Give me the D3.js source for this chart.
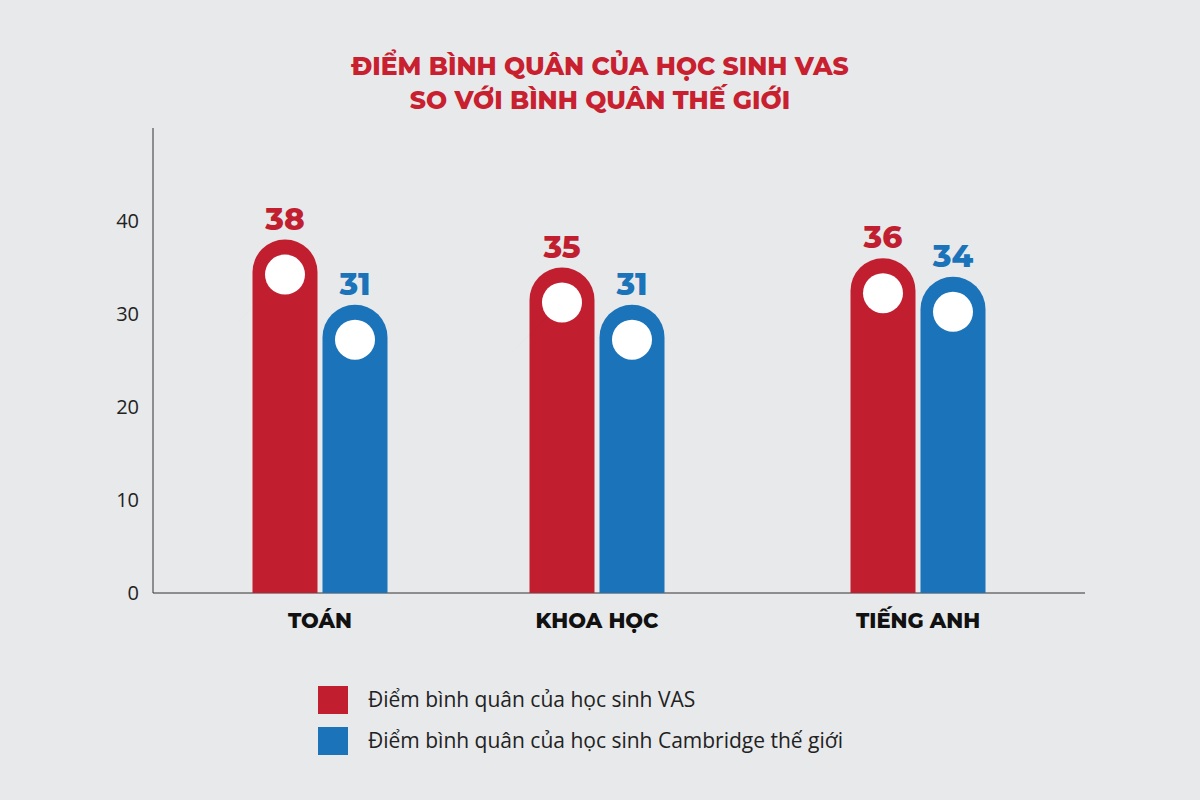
<!DOCTYPE html>
<html><head><meta charset="utf-8">
<script src="https://cdn.jsdelivr.net/npm/d3@7"></script>
<style>body{margin:0;background:#e8e9eb}svg{display:block}</style>
</head><body><svg id="c" width="1200" height="800"></svg>
<script>
const categories = ["TOÁN", "KHOA HỌC", "TIẾNG ANH"];
const vasValues = [38, 35, 36];
const worldValues = [31, 31, 34];
const seriesNames = ["Điểm bình quân của học sinh VAS", "Điểm bình quân của học sinh Cambridge thế giới"];
const yTicks = [0, 10, 20, 30, 40];
const colors = ["#c11f2f", "#1b73b9"];

const svg = d3.select("#c");
const font = "Montserrat, 'Open Sans', 'DejaVu Sans', sans-serif";
const y = d3.scaleLinear().domain([0, 50]).range([593, 128]);
const x = d3.scaleOrdinal().domain(categories).range([320, 597, 918]);
const bw = 65, gap = 5;

svg.append("text").attr("x", 600).attr("y", 75).attr("text-anchor", "middle")
  .attr("font-family", font).attr("font-weight", 800).attr("font-size", 25).attr("fill", "#c8202f")
  .text("ĐIỂM BÌNH QUÂN CỦA HỌC SINH VAS");
svg.append("text").attr("x", 600).attr("y", 109).attr("text-anchor", "middle")
  .attr("font-family", font).attr("font-weight", 800).attr("font-size", 25).attr("fill", "#c8202f")
  .text("SO VỚI BÌNH QUÂN THẾ GIỚI");

svg.append("line").attr("x1", 153).attr("x2", 153).attr("y1", 128).attr("y2", 593).attr("stroke", "#333").attr("stroke-width", 1);
svg.append("line").attr("x1", 153).attr("x2", 1085).attr("y1", 593).attr("y2", 593).attr("stroke", "#333").attr("stroke-width", 1);
const ya = svg.append("g").attr("transform", "translate(153,0)")
  .call(d3.axisLeft(y).tickValues(yTicks).tickSize(0).tickPadding(14));
ya.select(".domain").remove();
ya.selectAll("text").attr("font-family", "'Open Sans', sans-serif").attr("font-size", 20).attr("fill", "#222");

const defs = svg.append("defs");
const g = defs.append("linearGradient").attr("id", "sh").attr("x1", 1).attr("y1", 0).attr("x2", 0).attr("y2", 1);
g.append("stop").attr("offset", 0).attr("stop-color", "#000").attr("stop-opacity", 0.4);
g.append("stop").attr("offset", 0.5).attr("stop-color", "#000").attr("stop-opacity", 0.15);
g.append("stop").attr("offset", 1).attr("stop-color", "#000").attr("stop-opacity", 0);

function drawBar(cx0, v, col) {
  const top = y(v), r = bw / 2, cx = cx0 + r, bottom = y(0);
  const path = d3.path();
  path.moveTo(cx0, bottom); path.lineTo(cx0, top + r);
  path.arc(cx, top + r, r, Math.PI, 0); path.lineTo(cx0 + bw, bottom); path.closePath();
  svg.append("path").attr("d", path.toString()).attr("fill", col);
  const ccx = cx, ccy = top + 35, cr = 20;
  const a = Math.PI / 4, L = 55;
  const p1 = [ccx + cr * Math.cos(a), ccy - cr * Math.sin(a)];
  const p2 = [ccx - cr * Math.cos(a), ccy + cr * Math.sin(a)];
  svg.append("polygon")
    .attr("points", [p1, [p1[0] - L, p1[1] + L], [p2[0] - L, p2[1] + L], p2].map(p => p.join(",")).join(" "))
    .attr("fill", "url(#sh)");
  svg.append("circle").attr("cx", ccx).attr("cy", ccy).attr("r", cr).attr("fill", "#fff");
  svg.append("text").attr("x", cx).attr("y", top - 10).attr("text-anchor", "middle")
    .attr("font-family", font).attr("font-weight", 800).attr("font-size", 31).attr("fill", col).text(v);
}

categories.forEach((c, i) => {
  const c0 = x(c);
  drawBar(c0 - bw - gap / 2, vasValues[i], colors[0]);
  drawBar(c0 + gap / 2, worldValues[i], colors[1]);
  svg.append("text").attr("x", c0).attr("y", 628).attr("text-anchor", "middle")
    .attr("font-family", font).attr("font-weight", 800).attr("font-size", 21).attr("fill", "#111").text(c);
});

seriesNames.forEach((s, i) => {
  svg.append("rect").attr("x", 318).attr("y", 686 + i * 41).attr("width", 30).attr("height", 28).attr("fill", colors[i]);
  svg.append("text").attr("x", 368).attr("y", 707 + i * 41).attr("font-family", "'Open Sans', sans-serif")
    .attr("font-size", 21).attr("fill", "#222").text(s);
});
</script></body></html>
